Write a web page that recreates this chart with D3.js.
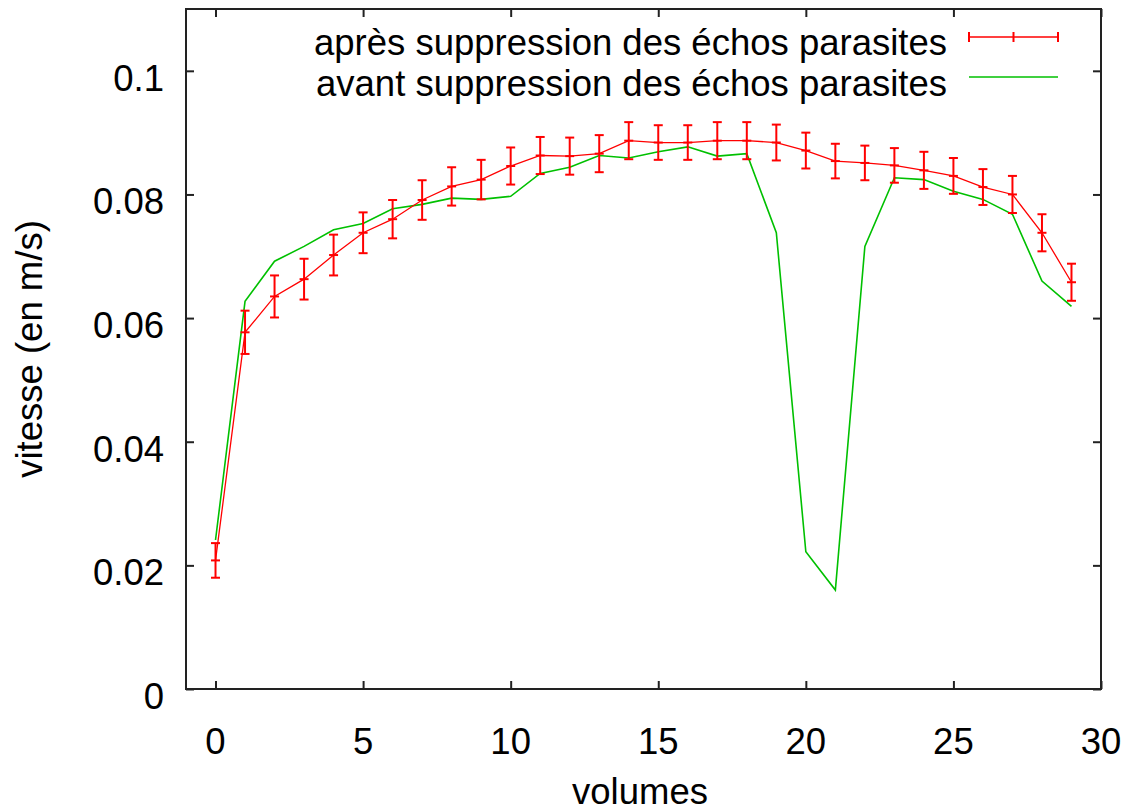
<!DOCTYPE html>
<html>
<head>
<meta charset="utf-8">
<script src="https://cdn.jsdelivr.net/npm/d3@7"></script>
<style>
  html, body { margin: 0; padding: 0; background: #fff; }
  svg { display: block; }
  text { font-family: "Liberation Sans", Arial, sans-serif; fill: #000; }
</style>
</head>
<body>
<svg id="chart" width="1144" height="812"></svg>
<script>
const volumes = [0,1,2,3,4,5,6,7,8,9,10,11,12,13,14,15,16,17,18,19,20,21,22,23,24,25,26,27,28,29];
const apres = [0.0208,0.0577,0.0635,0.0663,0.0702,0.0738,0.0760,0.0791,0.0813,0.0824,0.0846,0.0863,0.0862,0.0866,0.0887,0.0884,0.0884,0.0887,0.0887,0.0884,0.0871,0.0854,0.0851,0.0847,0.0839,0.0830,0.0812,0.0800,0.0738,0.0658];
const erreurs = [0.0028,0.0035,0.0034,0.0033,0.0033,0.0033,0.0031,0.0032,0.0031,0.0032,0.0030,0.0030,0.0030,0.0030,0.0030,0.0028,0.0028,0.0030,0.0030,0.0029,0.0029,0.0028,0.0028,0.0028,0.0030,0.0029,0.0029,0.0030,0.0030,0.0030];
const avant = [0.0241,0.0627,0.0692,0.0716,0.0743,0.0753,0.0777,0.0784,0.0794,0.0792,0.0797,0.0834,0.0844,0.0863,0.0859,0.0869,0.0877,0.0862,0.0866,0.0738,0.0222,0.0160,0.0716,0.0827,0.0824,0.0805,0.0792,0.0768,0.0660,0.0619];
const xTicks = [0,5,10,15,20,25,30];
const yTicks = [0,0.02,0.04,0.06,0.08,0.1];
const yTickLabels = ["0","0.02","0.04","0.06","0.08","0.1"];
const legendLabels = ["après suppression des échos parasites","avant suppression des échos parasites"];
const xTitle = "volumes";
const yTitle = "vitesse (en m/s)";

const svg = d3.select("#chart");
const L = 186, R = 1101, T = 9, B = 689;
const x = d3.scaleLinear().domain([-1, 30]).range([L, R]);
const y = d3.scaleLinear().domain([0, 0.11]).range([B, T]);
const RED = "#ff0000", GREEN = "#00c000", FS = 36.5;

// Frame
svg.append("rect").attr("x", L).attr("y", T).attr("width", R - L).attr("height", B - T)
  .attr("fill", "none").attr("stroke", "#222").attr("stroke-width", 2);

// Ticks (inward, mirrored)
const tickLen = 8;
const axB = svg.append("g").attr("transform", `translate(0,${B})`)
  .call(d3.axisBottom(x).tickValues(xTicks).tickSize(-tickLen).tickFormat(""));
const axT = svg.append("g").attr("transform", `translate(0,${T})`)
  .call(d3.axisTop(x).tickValues(xTicks).tickSize(-tickLen).tickFormat(""));
const axL = svg.append("g").attr("transform", `translate(${L},0)`)
  .call(d3.axisLeft(y).tickValues(yTicks).tickSize(-tickLen).tickFormat(""));
const axR = svg.append("g").attr("transform", `translate(${R},0)`)
  .call(d3.axisRight(y).tickValues(yTicks).tickSize(-tickLen).tickFormat(""));
[axB, axT, axL, axR].forEach(g => {
  g.select(".domain").remove();
  g.selectAll("line").attr("stroke", "#222").attr("stroke-width", 2);
});

// Tick labels
svg.append("g").selectAll("text").data(xTicks).join("text")
  .attr("x", d => x(d)).attr("y", 754).attr("text-anchor", "middle")
  .attr("font-size", FS).text(d => d);
svg.append("g").selectAll("text").data(yTicks).join("text")
  .attr("x", 164).attr("y", d => y(d) + 20).attr("text-anchor", "end")
  .attr("font-size", FS).text((d, i) => yTickLabels[i]);

// Axis titles
svg.append("text").attr("x", 640).attr("y", 804).attr("text-anchor", "middle")
  .attr("font-size", FS).text(xTitle);
svg.append("text").attr("transform", `translate(42,${(T + B) / 2}) rotate(-90)`)
  .attr("text-anchor", "middle").attr("font-size", FS).text(yTitle);

// Green line (avant)
const lineAvant = d3.line().x((d, i) => x(volumes[i])).y(d => y(d));
svg.append("path").datum(avant).attr("d", lineAvant)
  .attr("fill", "none").attr("stroke", GREEN).attr("stroke-width", 1.6);

// Red line (après) with error bars
const lineApres = d3.line().x((d, i) => x(volumes[i])).y(d => y(d));
svg.append("path").datum(apres).attr("d", lineApres)
  .attr("fill", "none").attr("stroke", RED).attr("stroke-width", 1.3);

const cap = 4.5;
const eb = svg.append("g").attr("stroke", RED).attr("stroke-width", 2).attr("fill", "none");
volumes.forEach((v, i) => {
  const cx = x(v), y0 = y(apres[i] - erreurs[i]), y1 = y(apres[i] + erreurs[i]), cy = y(apres[i]);
  eb.append("line").attr("x1", cx).attr("x2", cx).attr("y1", y0).attr("y2", y1);
  eb.append("line").attr("x1", cx - cap).attr("x2", cx + cap).attr("y1", y0).attr("y2", y0);
  eb.append("line").attr("x1", cx - cap).attr("x2", cx + cap).attr("y1", y1).attr("y2", y1);
  eb.append("line").attr("x1", cx - cap).attr("x2", cx + cap).attr("y1", cy).attr("y2", cy);
});

// Legend
const legRows = [{label: legendLabels[0], color: RED, ly: 37, ty: 55, err: true},
                 {label: legendLabels[1], color: GREEN, ly: 77, ty: 96, err: false}];
const lx0 = 969, lx1 = 1058;
legRows.forEach(r => {
  svg.append("text").attr("x", 947).attr("y", r.ty).attr("text-anchor", "end")
    .attr("font-size", FS).text(r.label);
  svg.append("line").attr("x1", lx0).attr("x2", lx1).attr("y1", r.ly).attr("y2", r.ly)
    .attr("stroke", r.color).attr("stroke-width", 1.6);
  if (r.err) {
    [lx0, (lx0 + lx1) / 2, lx1].forEach(px => {
      svg.append("line").attr("x1", px).attr("x2", px).attr("y1", r.ly - 5).attr("y2", r.ly + 5)
        .attr("stroke", r.color).attr("stroke-width", 2);
    });
  }
});
</script>
</body>
</html>
